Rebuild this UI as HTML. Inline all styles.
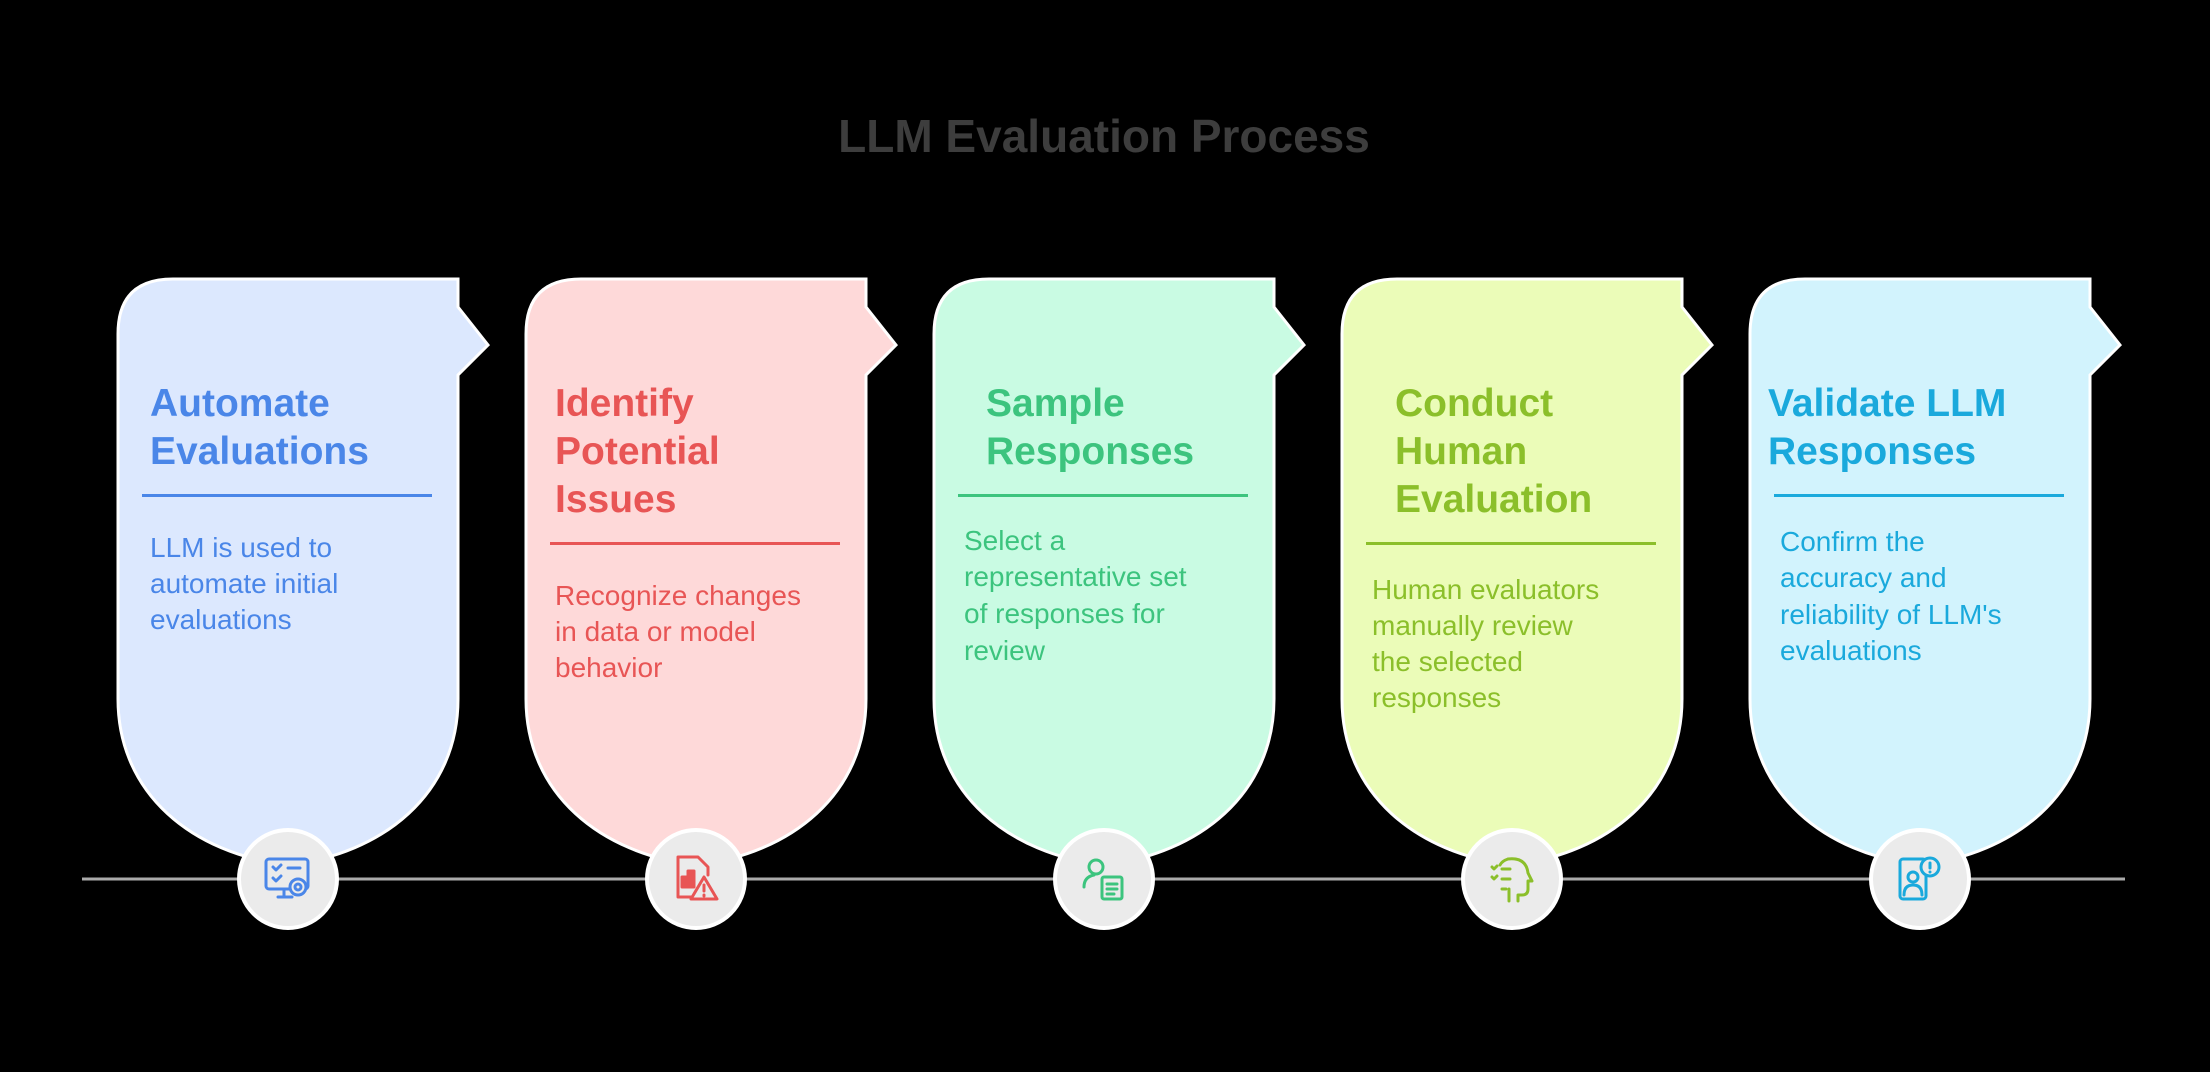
<!DOCTYPE html>
<html><head><meta charset="utf-8"><style>
html,body{margin:0;padding:0;background:#000;}
svg{display:block;}
text{font-family:"Liberation Sans",sans-serif;}
.h{font-weight:bold;font-size:39px;}
.b{font-size:28px;}
</style></head><body>
<svg width="2210" height="1072" viewBox="0 0 2210 1072" xmlns="http://www.w3.org/2000/svg">
<defs>
<path id="card" d="M0,55 Q0,0 55,0 H340 V28 L370,66 L340,96 V420 C340,515 265,575 170,586 C75,575 0,515 0,420 Z"/>
</defs>
<text x="1104" y="152" text-anchor="middle" font-size="46" font-weight="bold" fill="#3d3d3d">LLM Evaluation Process</text>
<line x1="82" y1="879" x2="2125" y2="879" stroke="#aaa" stroke-width="3"/>

<g transform="translate(118,279)"><use href="#card" fill="#dce8fe" stroke="#fff" stroke-width="3"/></g>
<text class="h" fill="#4a86e8"><tspan x="150" y="416">Automate</tspan><tspan x="150" y="464">Evaluations</tspan></text>
<rect x="142" y="494" width="290" height="3" fill="#4a86e8"/>
<text class="b" fill="#4a86e8"><tspan x="150" y="557">LLM is used to</tspan><tspan x="150" y="593">automate initial</tspan><tspan x="150" y="629">evaluations</tspan></text>

<g transform="translate(526,279)"><use href="#card" fill="#fed9d9" stroke="#fff" stroke-width="3"/></g>
<text class="h" fill="#e85555"><tspan x="555" y="416">Identify</tspan><tspan x="555" y="464">Potential</tspan><tspan x="555" y="512">Issues</tspan></text>
<rect x="550" y="542" width="290" height="3" fill="#e85555"/>
<text class="b" fill="#e85555"><tspan x="555" y="605">Recognize changes</tspan><tspan x="555" y="641">in data or model</tspan><tspan x="555" y="677">behavior</tspan></text>

<g transform="translate(934,279)"><use href="#card" fill="#c9fbe3" stroke="#fff" stroke-width="3"/></g>
<text class="h" fill="#3cc47e"><tspan x="986" y="416">Sample</tspan><tspan x="986" y="464">Responses</tspan></text>
<rect x="958" y="494" width="290" height="3" fill="#3cc47e"/>
<text class="b" fill="#3cc47e"><tspan x="964" y="550">Select a</tspan><tspan x="964" y="586">representative set</tspan><tspan x="964" y="623">of responses for</tspan><tspan x="964" y="660">review</tspan></text>

<g transform="translate(1342,279)"><use href="#card" fill="#ebfcb8" stroke="#fff" stroke-width="3"/></g>
<text class="h" fill="#8bbf2a"><tspan x="1395" y="416">Conduct</tspan><tspan x="1395" y="464">Human</tspan><tspan x="1395" y="512">Evaluation</tspan></text>
<rect x="1366" y="542" width="290" height="3" fill="#8bbf2a"/>
<text class="b" fill="#8bbf2a"><tspan x="1372" y="599">Human evaluators</tspan><tspan x="1372" y="635">manually review</tspan><tspan x="1372" y="671">the selected</tspan><tspan x="1372" y="707">responses</tspan></text>

<g transform="translate(1750,279)"><use href="#card" fill="#d2f3fd" stroke="#fff" stroke-width="3"/></g>
<text class="h" fill="#1aa9dc"><tspan x="1768" y="416">Validate LLM</tspan><tspan x="1768" y="464">Responses</tspan></text>
<rect x="1774" y="494" width="290" height="3" fill="#1aa9dc"/>
<text class="b" fill="#1aa9dc"><tspan x="1780" y="551">Confirm the</tspan><tspan x="1780" y="587">accuracy and</tspan><tspan x="1780" y="624">reliability of LLM's</tspan><tspan x="1780" y="660">evaluations</tspan></text>

<g fill="#ebebeb" stroke="#fff" stroke-width="4">
<circle cx="288" cy="879" r="49"/><circle cx="696" cy="879" r="49"/><circle cx="1104" cy="879" r="49"/><circle cx="1512" cy="879" r="49"/><circle cx="1920" cy="879" r="49"/>
</g>
<g fill="none" stroke-width="3" stroke-linecap="round" stroke-linejoin="round">
<g stroke="#4a86e8" transform="translate(288,879)">
<rect x="-22" y="-20" width="42" height="30" rx="3"/><path d="M-15,-12 l3,3 l5,-5 M-15,-1 l3,3 l5,-5 M0,-11 h12 M-4,10 v7 M-10,18 h14"/><circle cx="10" cy="8" r="8" fill="#ebebeb"/><circle cx="10" cy="8" r="3"/>
</g>
<g stroke="#e85555" transform="translate(696,879)">
<path d="M-18,-22 h20 l10,10 v8 M-18,-22 v40 h14"/><path d="M-14,8 v-10 h6 v-6 h6 v16 z" fill="#e85555"/><path d="M8,-2 l13,22 h-26 z" fill="#ebebeb"/><path d="M8,6 v6 M8,16 v1"/>
</g>
<g stroke="#3cc47e" transform="translate(1104,879)">
<circle cx="-8" cy="-12" r="7"/><path d="M-20,8 q0,-10 10,-12"/><rect x="-2" y="-2" width="20" height="22" rx="2" fill="#ebebeb"/><path d="M3,5 h10 M3,10 h10 M3,15 h7"/>
</g>
<g stroke="#8bbf2a" transform="translate(1512,879)">
<path d="M-4,-20 q18,-2 20,14 l4,8 h-4 v8 q0,6 -6,6 h-4 v6 M-4,-20 q-6,2 -8,6"/><path d="M-20,-12 l2,2 l3,-3 M-20,-2 l2,2 l3,-3 M-10,-10 h8 M-10,0 h8 M-10,10 h4 M-3,10 v12"/>
</g>
<g stroke="#1aa9dc" transform="translate(1920,879)">
<rect x="-20" y="-20" width="26" height="40" rx="3"/><circle cx="10" cy="-12" r="9" fill="#ebebeb"/><path d="M10,-16 v5 M10,-7 v0"/><circle cx="-7" cy="-2" r="5"/><path d="M-16,16 q0,-10 9,-10 q9,0 9,10"/>
</g>
</g>
</svg>
</body></html>
